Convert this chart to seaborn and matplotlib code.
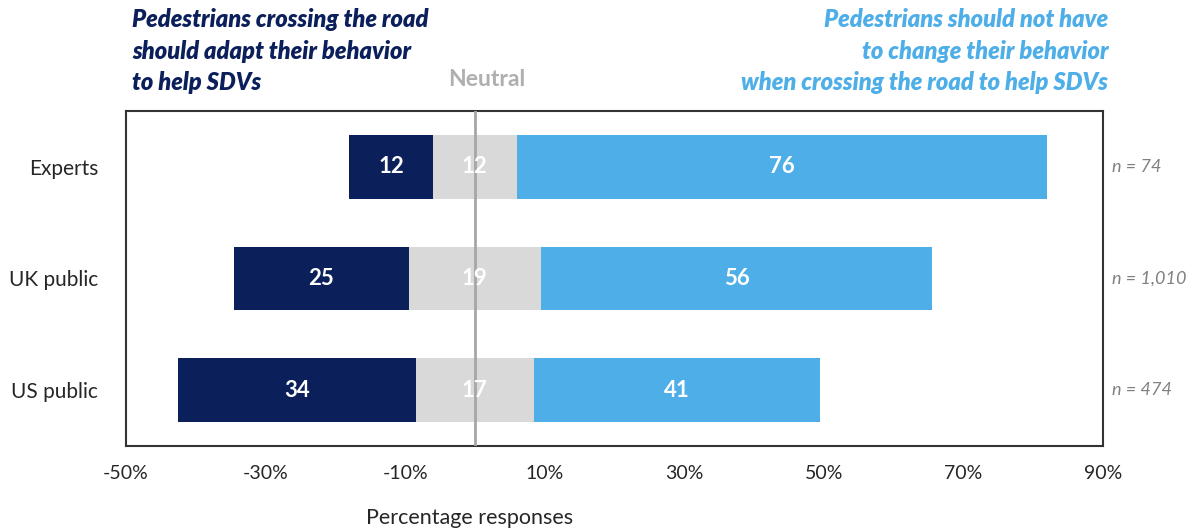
import pandas as pd
import matplotlib
matplotlib.use("Agg")
import matplotlib.pyplot as plt
import seaborn as sns

# survey data (percent of responses)
groups = ["Experts", "UK public", "US public"]
adapt = [12, 25, 34]
neutral = [12, 19, 17]
no_change = [76, 56, 41]
sample_n = ["n = 74", "n = 1,010", "n = 474"]
tick_vals = [-50, -30, -10, 10, 30, 50, 70, 90]

dark = "#0B1F5B"
grey = "#D9D9D9"
light = "#4DAEE8"

sns.set_theme(style="white")
plt.rcParams["font.family"] = ["Lato", "DejaVu Sans"]

df = pd.DataFrame({"group": groups, "adapt": adapt, "neutral": neutral, "no_change": no_change})
df["half"] = df["neutral"] / 2
df["right_end"] = df["half"] + df["no_change"]
df["left_end"] = -(df["half"] + df["adapt"])

fig = plt.figure(figsize=(12.02, 5.3), dpi=100)
ax = fig.add_axes([0.1048, 0.1585, 0.8128, 0.6321])

bw = 0.57
# layered bars from zero: outer segments first, neutral on top
kw = dict(width=bw, orient="h", ax=ax, saturation=1, linewidth=0)
sns.barplot(data=df, y="group", x="right_end", color=light, **kw)
sns.barplot(data=df, y="group", x="left_end", color=dark, **kw)
sns.barplot(data=df, y="group", x="half", color=grey, **kw)
sns.barplot(data=df, y="group", x=-df["half"], color=grey, **kw)

ax.axvline(0, color="#A6A6A6", lw=2, zorder=5)

for i, row in df.iterrows():
    ax.text(row["left_end"] + row["adapt"] / 2, i, str(row["adapt"]), color="white",
            fontsize=16, fontweight="bold", ha="center", va="center")
    ax.text(0, i, str(row["neutral"]), color="white",
            fontsize=16, fontweight="bold", ha="center", va="center", zorder=6)
    ax.text(row["half"] + row["no_change"] / 2, i, str(row["no_change"]), color="white",
            fontsize=16, fontweight="bold", ha="center", va="center")
    ax.text(1.009, 1 - (i + 0.5) / 3, sample_n[i], transform=ax.transAxes, color="#808080",
            fontsize=13, fontstyle="italic", ha="left", va="center")

ax.set_xlim(-50, 90)
ax.set_ylim(2.5, -0.5)
ax.set_xticks(tick_vals)
ax.set_xticklabels([f"{v}%" for v in tick_vals], fontsize=14)
ax.tick_params(axis="x", length=0, pad=14)
ax.tick_params(axis="y", length=0, pad=20, labelsize=15)
ax.set_ylabel("")
ax.set_xlabel("Percentage responses", fontsize=15.5)
ax.xaxis.set_label_coords(0.352, -0.185)
for s in ax.spines.values():
    s.set_visible(True)
    s.set_color("#333333")
    s.set_linewidth(1.5)

fig.text(0.11, 0.985, "Pedestrians crossing the road\nshould adapt their behavior\nto help SDVs",
         color=dark, fontsize=17, fontweight="heavy", fontstyle="italic",
         ha="left", va="top", linespacing=1.45)
fig.text(0.922, 0.985, "Pedestrians should not have\nto change their behavior\nwhen crossing the road to help SDVs",
         color=light, fontsize=17, fontweight="heavy", fontstyle="italic",
         ha="right", va="top", linespacing=1.45)
fig.text(0.405, 0.85, "Neutral", color="#AFAFAF", fontsize=16.5, fontweight="bold",
         ha="center", va="center")

fig.savefig("out.png", dpi=100)
